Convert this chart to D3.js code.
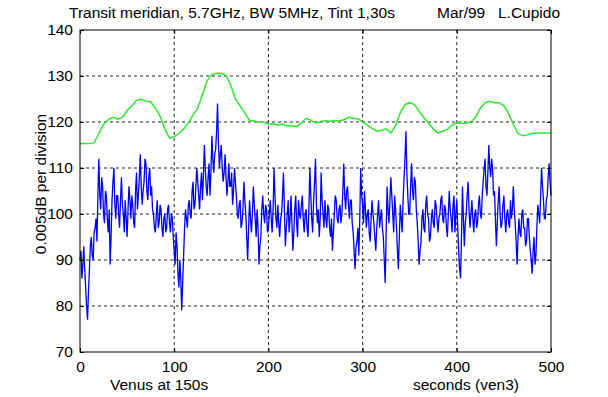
<!DOCTYPE html>
<html lang="en">
<head>
<meta charset="UTF-8">
<title>Transit meridian</title>
<script src="https://d3js.org/d3.v7.min.js"></script>
<style>
  body { margin: 0; background: #fff; }
  text { font-family: "Liberation Sans", Arial, sans-serif; fill: #000; }
</style>
</head>
<body>
<div id="chart"></div>
<script>
// blue trace, one sample per second from 0 to 500
const blueStep = 1;
const blueValues = [
  90, 92, 86, 89, 93, 88, 84, 80, 77, 83, 88, 93, 95, 91, 90, 96, 97, 99, 94, 104,
  112, 104, 101, 108, 106, 100, 98, 105, 104, 99, 96, 101, 89, 95, 103, 107, 110, 102, 99, 104,
  104, 100, 97, 103, 108, 102, 100, 96, 103, 99, 95, 101, 106, 103, 99, 104, 102, 98, 97, 105,
  109, 101, 104, 108, 113, 106, 102, 105, 107, 112, 111, 105, 103, 108, 110, 104, 106, 101, 100, 97,
  96, 100, 103, 97, 98, 102, 101, 97, 95, 99, 100, 96, 97, 101, 102, 98, 96, 100, 99, 95,
  92, 89, 96, 93, 87, 84, 90, 86, 79, 85, 91, 97, 101, 99, 97, 102, 103, 100, 99, 105,
  107, 101, 102, 106, 110, 107, 104, 101, 106, 109, 103, 108, 115, 110, 106, 104, 108, 111, 104, 109,
  117, 112, 109, 113, 114, 118, 124, 115, 110, 113, 115, 110, 107, 109, 113, 108, 104, 107, 111, 106,
  106, 109, 102, 105, 110, 107, 104, 100, 99, 102, 103, 97, 98, 101, 107, 103, 100, 95, 90, 97,
  103, 99, 96, 100, 106, 102, 99, 95, 101, 97, 89, 93, 95, 101, 104, 100, 98, 102, 101, 96,
  97, 100, 103, 99, 96, 101, 110, 104, 99, 97, 102, 98, 95, 99, 100, 104, 109, 101, 93, 97,
  100, 103, 96, 99, 104, 98, 92, 96, 101, 104, 98, 95, 103, 100, 99, 102, 104, 99, 96, 100,
  101, 97, 95, 101, 110, 104, 99, 96, 103, 107, 112, 102, 98, 101, 95, 99, 109, 103, 100, 97,
  103, 99, 97, 102, 101, 97, 95, 99, 92, 96, 100, 104, 103, 99, 98, 101, 102, 98, 100, 105,
  111, 104, 101, 105, 106, 102, 99, 103, 103, 98, 96, 92, 88, 93, 94, 97, 91, 99, 110, 104,
  102, 98, 105, 101, 97, 100, 101, 96, 94, 99, 103, 100, 98, 95, 92, 97, 100, 103, 97, 99,
  101, 97, 95, 90, 85, 96, 106, 101, 98, 103, 108, 104, 100, 96, 104, 101, 97, 92, 88, 95,
  102, 99, 96, 103, 108, 112, 118, 109, 104, 100, 100, 106, 111, 105, 103, 108, 107, 101, 98, 94,
  89, 92, 94, 99, 101, 97, 96, 102, 104, 100, 99, 94, 95, 99, 101, 98, 97, 103, 102, 99,
  96, 99, 100, 103, 104, 99, 98, 102, 101, 97, 95, 100, 105, 101, 99, 96, 102, 104, 96, 100,
  103, 97, 92, 88, 86, 95, 106, 99, 93, 98, 100, 104, 107, 101, 97, 100, 103, 99, 96, 100,
  101, 97, 98, 102, 104, 100, 99, 104, 107, 110, 112, 106, 104, 109, 115, 110, 108, 112, 110, 104,
  105, 99, 93, 98, 103, 106, 100, 97, 98, 102, 104, 99, 96, 100, 101, 98, 97, 103, 99, 101,
  106, 101, 98, 94, 89, 95, 99, 96, 95, 100, 101, 97, 97, 93, 94, 99, 99, 95, 92, 90,
  87, 92, 95, 89, 91, 97, 102, 100, 98, 104, 110, 106, 103, 99, 99, 103, 104, 108, 111, 107,
  104
];

// green trace, one sample every 5 s from 0 to 500
const greenStep = 5;
const greenValues = [
  115.3, 115.3, 115.3, 115.5, 117.5, 119.5, 120.5, 121.0, 120.6, 121.0,
  122.5, 123.5, 124.7, 125.0, 124.5, 124.4, 123.0, 121.3, 118.5, 116.5,
  116.8, 117.5, 118.5, 119.8, 121.5, 123.0, 126.0, 129.0, 130.3, 130.6,
  130.6, 130.2, 128.0, 125.0, 123.5, 122.0, 120.3, 120.2, 120.0, 120.0,
  119.5, 119.6, 119.3, 119.5, 119.2, 119.2, 119.0, 119.8, 120.8, 120.4,
  119.8, 120.0, 120.3, 120.1, 120.3, 120.2, 120.5, 121.0, 120.8, 120.7,
  120.0, 119.3, 118.6, 118.0, 118.2, 118.5, 117.6, 119.2, 122.0, 123.8,
  124.2, 123.8, 122.3, 121.0, 119.8, 118.5, 117.6, 118.0, 118.4, 119.3,
  119.8, 119.7, 119.8, 120.0, 121.0, 123.0, 124.2, 124.5, 124.2, 124.2,
  123.5, 121.8, 119.5, 117.5, 117.0, 117.2, 117.5, 117.6, 117.6, 117.6,
  117.6
];

const xTicks = [0, 100, 200, 300, 400, 500];
const yTicks = [70, 80, 90, 100, 110, 120, 130, 140];

const W = 608, H = 397;
const pLeft = 80, pRight = 551, pTop = 30, pBottom = 352;

const svg = d3.select("#chart").append("svg")
  .attr("width", W).attr("height", H);

const x = d3.scaleLinear().domain([0, 500]).range([pLeft, pRight]);
const y = d3.scaleLinear().domain([70, 140]).range([pBottom, pTop]);

// dotted grid
svg.append("g").selectAll("line")
  .data(xTicks.slice(1, -1)).join("line")
  .attr("x1", d => x(d)).attr("x2", d => x(d))
  .attr("y1", pTop).attr("y2", pBottom)
  .attr("stroke", "#222").attr("stroke-width", 1).attr("stroke-dasharray", "3,3");
svg.append("g").selectAll("line")
  .data(yTicks.slice(1, -1)).join("line")
  .attr("x1", pLeft).attr("x2", pRight)
  .attr("y1", d => y(d)).attr("y2", d => y(d))
  .attr("stroke", "#222").attr("stroke-width", 1).attr("stroke-dasharray", "3,3");

// traces
const blue = blueValues.map((v, i) => [i * blueStep, v]);
const green = greenValues.map((v, i) => [i * greenStep, v]);
const line = d3.line().x(d => x(d[0])).y(d => y(d[1]));

svg.append("path").datum(green)
  .attr("fill", "none").attr("stroke", "#2ee82e").attr("stroke-width", 1.5)
  .attr("d", line);
svg.append("path").datum(blue)
  .attr("fill", "none").attr("stroke", "#0000ff").attr("stroke-width", 1.3)
  .attr("d", line);

// axes with inward ticks
const xAxis = svg.append("g").attr("transform", `translate(0,${pBottom})`)
  .call(d3.axisBottom(x).tickValues(xTicks).tickSizeInner(-4).tickSizeOuter(0).tickPadding(9));
const yAxis = svg.append("g").attr("transform", `translate(${pLeft},0)`)
  .call(d3.axisLeft(y).tickValues(yTicks).tickSizeInner(-4).tickSizeOuter(0).tickPadding(7));
svg.append("g").attr("transform", `translate(0,${pTop})`)
  .call(d3.axisTop(x).tickValues(xTicks).tickSizeInner(-4).tickSizeOuter(0).tickFormat(""));
svg.append("g").attr("transform", `translate(${pRight},0)`)
  .call(d3.axisRight(y).tickValues(yTicks).tickSizeInner(-4).tickSizeOuter(0).tickFormat(""));

svg.selectAll(".domain").remove();
svg.selectAll(".tick line").attr("stroke", "#000");
xAxis.selectAll("text").attr("font-size", 15.5).attr("font-family", "Liberation Sans, Arial, sans-serif");
yAxis.selectAll("text").attr("font-size", 15.5).attr("font-family", "Liberation Sans, Arial, sans-serif");

// box
svg.append("rect")
  .attr("x", pLeft).attr("y", pTop)
  .attr("width", pRight - pLeft).attr("height", pBottom - pTop)
  .attr("fill", "none").attr("stroke", "#000").attr("stroke-width", 1);

// texts
svg.append("text").attr("x", 69).attr("y", 18)
  .attr("font-size", 15.5).text("Transit meridian, 5.7GHz, BW 5MHz, Tint 1,30s");
svg.append("text").attr("x", 437).attr("y", 18)
  .attr("font-size", 15.5).text("Mar/99");
svg.append("text").attr("x", 498).attr("y", 18)
  .attr("font-size", 15.5).text("L.Cupido");
svg.append("text").attr("x", 110).attr("y", 390)
  .attr("font-size", 15.5).text("Venus at 150s");
svg.append("text").attr("x", 413).attr("y", 390)
  .attr("font-size", 15.5).text("seconds (ven3)");
svg.append("text")
  .attr("transform", "translate(46,184) rotate(-90)")
  .attr("text-anchor", "middle").attr("font-size", 15.5)
  .text("0.005dB per division");
</script>
</body>
</html>
